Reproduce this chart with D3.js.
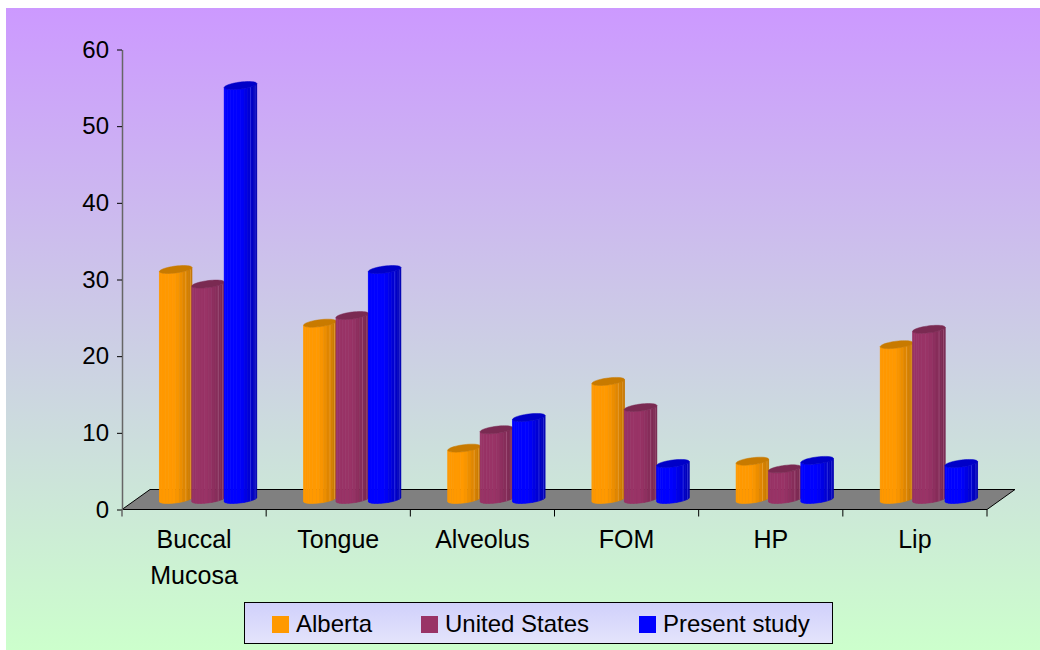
<!DOCTYPE html>
<html>
<head>
<meta charset="utf-8">
<script src="https://cdn.jsdelivr.net/npm/d3@7"></script>
<style>
  body { margin: 0; background: #ffffff; }
  svg { display: block; }
  text { font-family: "Liberation Sans", Arial, sans-serif; fill: #000; }
</style>
</head>
<body>
<svg id="chart" width="1040" height="650"></svg>
<script>
// Tumour site distribution (%) by study
const categories = ["Buccal Mucosa", "Tongue", "Alveolus", "FOM", "HP", "Lip"];
const seriesNames = ["Alberta", "United States", "Present study"];
const alberta = [30, 23, 6.7, 15.4, 5, 20.2];
const unitedStates = [28.1, 24, 9.1, 12, 4, 22.2];
const presentStudy = [54, 30, 10.7, 4.7, 5.1, 4.7];
const yTicks = [0, 10, 20, 30, 40, 50, 60];

const seriesValues = [alberta, unitedStates, presentStudy];
const palette = [
  { main: "#FF9900", dark: "#C47600", cap: "#C87A00", line: "#FFC266" },
  { main: "#993366", dark: "#772850", cap: "#7A2A52", line: "#C27A9E" },
  { main: "#0000FF", dark: "#0000B0", cap: "#0000C8", line: "#6666FF" }
];

const W = 1040, H = 650;
const svg = d3.select("#chart");
const defs = svg.append("defs");

// background panel with vertical two-colour gradient
const bg = defs.append("linearGradient").attr("id", "bgGrad")
  .attr("x1", 0).attr("y1", 0).attr("x2", 0).attr("y2", 1);
bg.append("stop").attr("offset", "0%").attr("stop-color", "#CC99FF");
bg.append("stop").attr("offset", "100%").attr("stop-color", "#CCFFCC");
svg.append("rect").attr("x", 6).attr("y", 8).attr("width", W - 6).attr("height", H - 8)
  .attr("fill", "url(#bgGrad)");

// plot geometry (3-D oblique floor)
const plotLeft = 122, plotRight = 987, plotTop = 49.5, plotBase = 509.5;
const depthX = 28, depthY = 20;

const y = d3.scaleLinear().domain([0, 60]).range([plotBase, plotTop]);
const x0 = d3.scaleBand().domain(categories).range([plotLeft, plotRight])
  .paddingInner(0.326).paddingOuter(0.163);
const x1 = d3.scaleBand().domain(seriesNames).range([0, x0.bandwidth()]);

// floor
const floorPts = [
  [plotLeft, y(0)], [plotRight, y(0)],
  [plotRight + depthX, y(0) - depthY], [plotLeft + depthX, y(0) - depthY]
];
svg.append("path")
  .attr("d", d3.line()(floorPts) + "Z")
  .attr("fill", "#808080").attr("stroke", "#000").attr("stroke-width", 1);

// value axis
const yAxis = d3.axisLeft(y).tickValues(yTicks).tickSize(5).tickSizeOuter(0).tickPadding(8);
const yg = svg.append("g").attr("transform", `translate(${plotLeft},0)`).call(yAxis);
yg.select(".domain").attr("stroke", "#666666").attr("stroke-width", 1.5);
yg.selectAll(".tick line").attr("stroke", "#000");
yg.selectAll(".tick text").attr("font-size", 24).attr("font-family", "'Liberation Sans', Arial, sans-serif")
  .attr("fill", "#000");
yg.append("line").attr("x1", 0).attr("x2", 0).attr("y1", y(0)).attr("y2", y(0) + 7)
  .attr("stroke", "#666666").attr("stroke-width", 1.5);

// category boundary ticks along the front edge
const bounds = d3.range(categories.length + 1).map(i => plotLeft + i * x0.step());
svg.append("g").selectAll("line").data(bounds.slice(1)).join("line")
  .attr("x1", d => d).attr("x2", d => d)
  .attr("y1", y(0)).attr("y2", y(0) + 7)
  .attr("stroke", "#000").attr("stroke-width", 1);

// category labels
const catG = svg.append("g");
categories.forEach(c => {
  const words = c.split(" ");
  const t = catG.append("text")
    .attr("x", x0(c) + x0.bandwidth() / 2)
    .attr("y", 548)
    .attr("text-anchor", "middle")
    .attr("font-size", 25);
  words.forEach((w, i) => {
    t.append("tspan").attr("x", x0(c) + x0.bandwidth() / 2)
      .attr("dy", i === 0 ? 0 : 36).text(w);
  });
});

// faceted cylinder columns standing at mid depth
function cylinder(g, cx, cyTop, cyBase, hw, col) {
  const r = hw * 0.87, a = hw * 0.5, b = 4;
  const t0 = Math.atan2(a, r);
  const pt = (t, cy) => [cx + r * Math.cos(t) + a * Math.sin(t), cy - b * Math.sin(t)];
  const N = 14;
  const ts = d3.range(N + 1).map(i => t0 + Math.PI + i * Math.PI / N);
  const xl = pt(ts[0], cyTop)[0], xr = pt(ts[N], cyTop)[0];
  const shade = u => u < 0.5 ? col.main : d3.interpolateRgb(col.main, col.dark)((u - 0.5) / 0.5);
  for (let i = 0; i < N; i++) {
    const p1 = pt(ts[i], cyTop), p2 = pt(ts[i + 1], cyTop);
    const p3 = pt(ts[i + 1], cyBase), p4 = pt(ts[i], cyBase);
    const u = ((p1[0] + p2[0]) / 2 - xl) / (xr - xl);
    const c = shade(u);
    g.append("path").attr("d", d3.line()([p1, p2, p3, p4]) + "Z")
      .attr("fill", c).attr("stroke", c).attr("stroke-width", 0.6);
  }
  // thin facet edges on the shaded side
  for (let i = 1; i < N; i++) {
    const p = pt(ts[i], cyTop);
    const u = (p[0] - xl) / (xr - xl);
    if (u > 0.72 && i % 2 === 0) {
      g.append("line").attr("x1", p[0]).attr("x2", p[0])
        .attr("y1", p[1]).attr("y2", pt(ts[i], cyBase)[1])
        .attr("stroke", col.line).attr("stroke-opacity", 0.55).attr("stroke-width", 0.7);
    }
  }
  const capPts = d3.range(0, 48).map(i => pt(i / 48 * 2 * Math.PI, cyTop));
  g.append("path").attr("d", d3.line()(capPts) + "Z")
    .attr("fill", col.cap).attr("stroke", col.cap).attr("stroke-width", 0.5);
}

const barsG = svg.append("g");
categories.forEach((c, ci) => {
  seriesNames.forEach((s, si) => {
    const v = seriesValues[si][ci];
    const hw = x1.bandwidth() / 2;
    const cx = x0(c) + x1(s) + hw + depthX / 2;
    cylinder(barsG, cx, y(v) - depthY / 2, y(0) - depthY / 2, hw, palette[si]);
  });
});

// legend
const lg = defs.append("linearGradient").attr("id", "legGrad")
  .attr("x1", 0).attr("y1", 0).attr("x2", 0).attr("y2", 1);
lg.append("stop").attr("offset", "0%").attr("stop-color", "#D0D0FB");
lg.append("stop").attr("offset", "100%").attr("stop-color", "#E4E4FB");
const legend = svg.append("g");
legend.append("rect").attr("x", 244.5).attr("y", 602.5).attr("width", 588).attr("height", 41)
  .attr("fill", "url(#legGrad)").attr("stroke", "#000").attr("stroke-width", 1);
const legendX = [272, 421, 639];
seriesNames.forEach((s, i) => {
  legend.append("rect").attr("x", legendX[i]).attr("y", 616).attr("width", 17).attr("height", 17)
    .attr("fill", palette[i].main);
  legend.append("text").attr("x", legendX[i] + 24).attr("y", 632)
    .attr("font-size", 24).text(s);
});
</script>
</body>
</html>
